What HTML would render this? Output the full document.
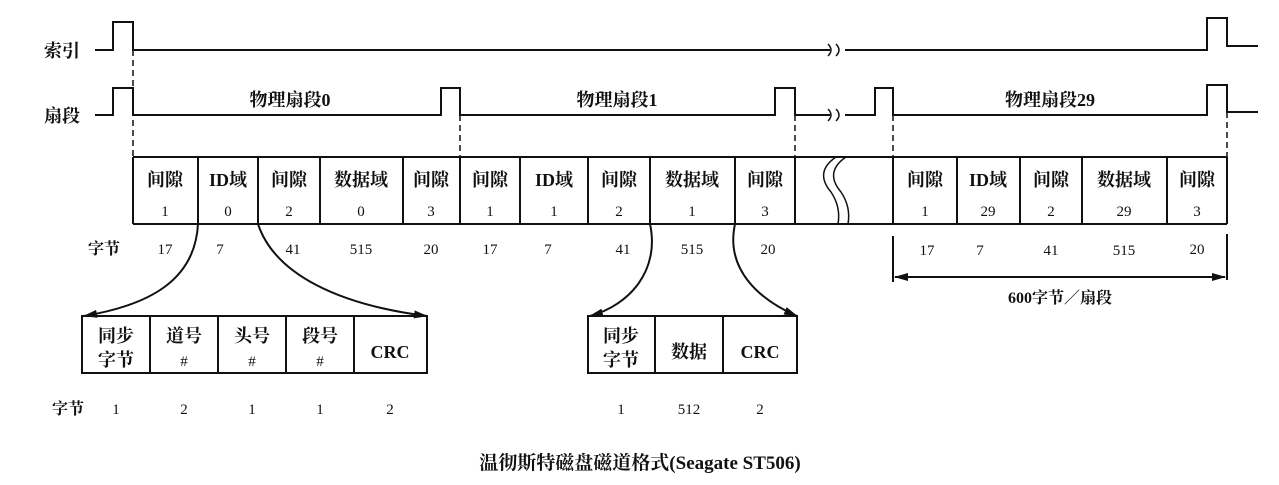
<!DOCTYPE html>
<html><head><meta charset="utf-8"><style>
html,body{margin:0;padding:0;background:#fff;}
svg{display:block;}
text{font-family:"Liberation Serif","Noto Serif CJK SC",serif;font-size:18px;fill:#111;font-weight:bold;}
.s{font-size:15px;font-weight:normal;}
</style></head><body>
<svg width="1279" height="485" viewBox="0 0 1279 485" xmlns="http://www.w3.org/2000/svg">
<defs><marker id="a" markerUnits="userSpaceOnUse" markerWidth="14" markerHeight="8" refX="13" refY="4" orient="auto"><path d="M0,0 L14,4 L0,8 z" fill="#111"/></marker></defs>
<g stroke="#111" stroke-width="2" fill="none">
<path d="M95,50 H113 V22 H133 V50 H830"/>
<path d="M845,50 H1207 V18 H1227 V46 H1258"/>
<path d="M828,56 q6,-6 0,-12 M836,56 q6,-6 0,-12" stroke-width="1.5"/>
<path d="M95,115 H113 V88 H133 V115 H441 V88 H460 V115 H775 V88 H795 V115 H830"/>
<path d="M845,115 H875 V88 H893 V115 H1207 V85 H1227 V112 H1258"/>
<path d="M828,121 q6,-6 0,-12 M836,121 q6,-6 0,-12" stroke-width="1.5"/>
<g stroke-dasharray="6,4" stroke-width="1.5">
<path d="M133,50 V157 M460,115 V157 M795,115 V157 M893,115 V157 M1227,112 V157"/>
</g>
<path d="M133,157 H1227 M133,224 H1227"/>
<path d="M133,157 V224 M198,157 V224 M258,157 V224 M320,157 V224 M403,157 V224 M460,157 V224 M520,157 V224 M588,157 V224 M650,157 V224 M735,157 V224 M795,157 V224 M893,157 V224 M957,157 V224 M1020,157 V224 M1082,157 V224 M1167,157 V224 M1227,157 V224"/>
<path d="M836,157 q-22,15 -5,35 q10,15 7,32 M846,157 q-22,15 -5,35 q10,15 7,32" stroke-width="1.5"/>
<path d="M893,236 V282 M1227,234 V280"/>
<path d="M895,277 H1225" marker-end="url(#a)"/>
<path d="M1225,277 H895" marker-end="url(#a)"/>
<path d="M198,224 C195,280 150,305 84,316" marker-end="url(#a)"/>
<path d="M258,224 C275,275 340,305 427,316" marker-end="url(#a)"/>
<path d="M650,224 C660,270 630,305 590,316" marker-end="url(#a)"/>
<path d="M735,224 C725,270 760,300 797,316" marker-end="url(#a)"/>
<rect x="82" y="316" width="345" height="57"/>
<path d="M150,316 V373 M218,316 V373 M286,316 V373 M354,316 V373"/>
<rect x="588" y="316" width="209" height="57"/>
<path d="M655,316 V373 M723,316 V373"/>
</g>
<g text-anchor="middle">
<text x="80" y="57" text-anchor="end">索引</text>
<text x="80" y="122" text-anchor="end">扇段</text>
<text x="290" y="106">物理扇段0</text>
<text x="617" y="106">物理扇段1</text>
<text x="1050" y="106">物理扇段29</text>
<g>
<text x="165" y="186">间隙</text><text x="165" y="216" class="s">1</text>
<text x="228" y="186">ID域</text><text x="228" y="216" class="s">0</text>
<text x="289" y="186">间隙</text><text x="289" y="216" class="s">2</text>
<text x="361" y="186">数据域</text><text x="361" y="216" class="s">0</text>
<text x="431" y="186">间隙</text><text x="431" y="216" class="s">3</text>
<text x="490" y="186">间隙</text><text x="490" y="216" class="s">1</text>
<text x="554" y="186">ID域</text><text x="554" y="216" class="s">1</text>
<text x="619" y="186">间隙</text><text x="619" y="216" class="s">2</text>
<text x="692" y="186">数据域</text><text x="692" y="216" class="s">1</text>
<text x="765" y="186">间隙</text><text x="765" y="216" class="s">3</text>
<text x="925" y="186">间隙</text><text x="925" y="216" class="s">1</text>
<text x="988" y="186">ID域</text><text x="988" y="216" class="s">29</text>
<text x="1051" y="186">间隙</text><text x="1051" y="216" class="s">2</text>
<text x="1124" y="186">数据域</text><text x="1124" y="216" class="s">29</text>
<text x="1197" y="186">间隙</text><text x="1197" y="216" class="s">3</text>
</g>
<text x="104" y="254" style="font-size:16px">字节</text>
<text x="165" y="254" class="s">17</text><text x="220" y="254" class="s">7</text><text x="293" y="254" class="s">41</text><text x="361" y="254" class="s">515</text><text x="431" y="254" class="s">20</text>
<text x="490" y="254" class="s">17</text><text x="548" y="254" class="s">7</text><text x="623" y="254" class="s">41</text><text x="692" y="254" class="s">515</text><text x="768" y="254" class="s">20</text>
<text x="927" y="255" class="s">17</text><text x="980" y="255" class="s">7</text><text x="1051" y="255" class="s">41</text><text x="1124" y="255" class="s">515</text><text x="1197" y="254" class="s">20</text>
<text x="1060" y="303" style="font-size:16px">600字节／扇段</text>
<text x="116" y="342">同步</text><text x="116" y="366">字节</text>
<text x="184" y="342">道号</text><text x="184" y="366" class="s">#</text>
<text x="252" y="342">头号</text><text x="252" y="366" class="s">#</text>
<text x="320" y="342">段号</text><text x="320" y="366" class="s">#</text>
<text x="390" y="358">CRC</text>
<text x="621" y="342">同步</text><text x="621" y="366">字节</text>
<text x="689" y="358">数据</text>
<text x="760" y="358">CRC</text>
<text x="68" y="414" style="font-size:16px">字节</text>
<text x="116" y="414" class="s">1</text><text x="184" y="414" class="s">2</text><text x="252" y="414" class="s">1</text><text x="320" y="414" class="s">1</text><text x="390" y="414" class="s">2</text>
<text x="621" y="414" class="s">1</text><text x="689" y="414" class="s">512</text><text x="760" y="414" class="s">2</text>
<text x="640" y="469" style="font-size:19px">温彻斯特磁盘磁道格式(Seagate ST506)</text>
</g>
</svg>
</body></html>
